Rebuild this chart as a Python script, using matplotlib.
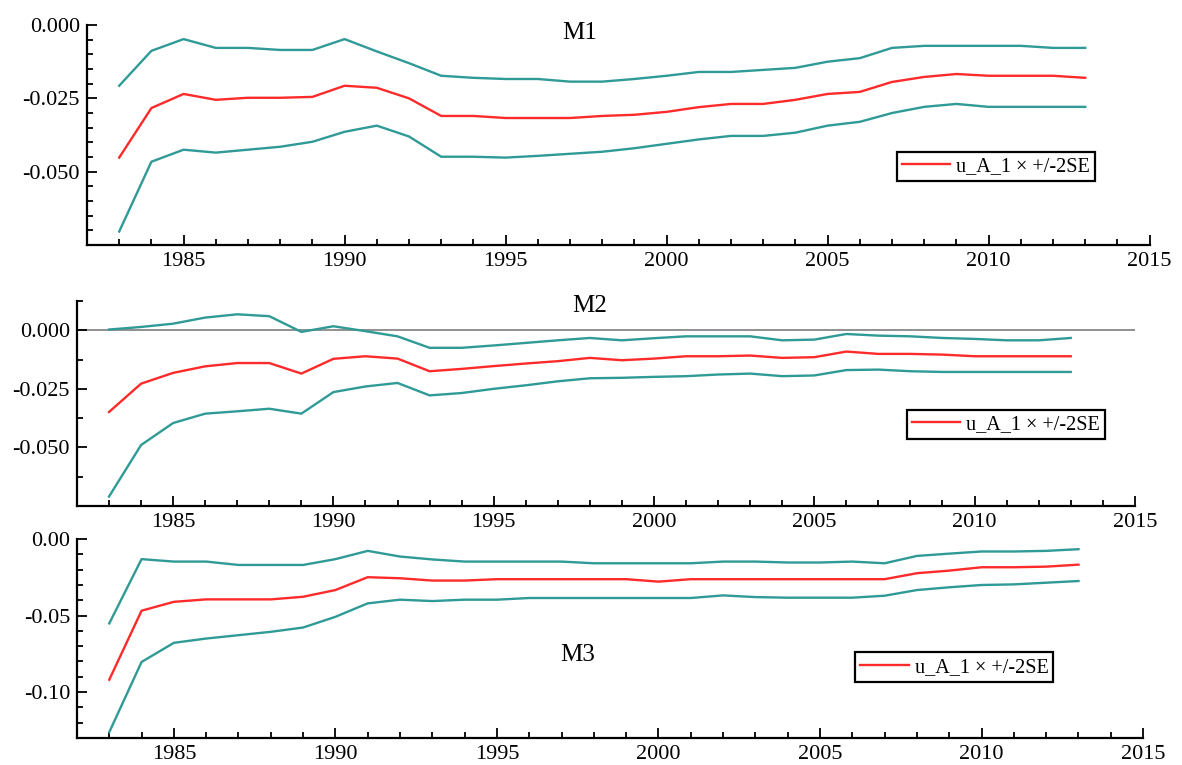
import numpy as np
from matplotlib import pyplot as plt
from matplotlib.ticker import MultipleLocator, FormatStrFormatter

plt.rcParams.update({'font.family': 'Liberation Serif', 'font.size': 15,
                     'axes.unicode_minus': False})

years = np.arange(1983, 2014)

# M1
m1_mid = [-0.0452, -0.0283, -0.0235, -0.0255, -0.0248, -0.0248, -0.0245, -0.0207, -0.0214, -0.0250,
          -0.0310, -0.0310, -0.0317, -0.0317, -0.0317, -0.0310, -0.0306, -0.0296, -0.0280, -0.0269,
          -0.0269, -0.0255, -0.0235, -0.0228, -0.0194, -0.0177, -0.0167, -0.0173, -0.0173, -0.0173, -0.0180]
m1_up = [-0.0207, -0.0088, -0.0048, -0.0078, -0.0078, -0.0085, -0.0085, -0.0048, -0.0090, -0.0130,
         -0.0173, -0.0180, -0.0184, -0.0184, -0.0193, -0.0193, -0.0184, -0.0173, -0.0160, -0.0160,
         -0.0153, -0.0146, -0.0125, -0.0113, -0.0078, -0.0071, -0.0071, -0.0071, -0.0071, -0.0078, -0.0078]
m1_lo = [-0.0704, -0.0466, -0.0425, -0.0435, -0.0425, -0.0415, -0.0398, -0.0364, -0.0343, -0.0380,
         -0.0449, -0.0449, -0.0452, -0.0446, -0.0439, -0.0432, -0.0420, -0.0405, -0.0390, -0.0378,
         -0.0378, -0.0367, -0.0343, -0.0330, -0.0300, -0.0279, -0.0269, -0.0279, -0.0279, -0.0279, -0.0279]

# M2
m2_mid = [-0.0349, -0.0228, -0.0182, -0.0154, -0.0140, -0.0140, -0.0185, -0.0122, -0.0111, -0.0121,
          -0.0175, -0.0165, -0.0153, -0.0142, -0.0132, -0.0118, -0.0128, -0.0121, -0.0111, -0.0111,
          -0.0108, -0.0118, -0.0115, -0.0091, -0.0101, -0.0101, -0.0104, -0.0111, -0.0111, -0.0111, -0.0111]
m2_up = [0.0003, 0.0014, 0.0028, 0.0054, 0.0068, 0.0060, -0.0007, 0.0017, -0.0004, -0.0026,
         -0.0075, -0.0075, -0.0065, -0.0054, -0.0043, -0.0033, -0.0043, -0.0034, -0.0026, -0.0026,
         -0.0026, -0.0043, -0.0040, -0.0016, -0.0023, -0.0026, -0.0033, -0.0037, -0.0043, -0.0043, -0.0033]
m2_lo = [-0.0710, -0.0490, -0.0396, -0.0356, -0.0346, -0.0335, -0.0356, -0.0264, -0.0240, -0.0225,
         -0.0278, -0.0268, -0.0250, -0.0235, -0.0218, -0.0205, -0.0203, -0.0199, -0.0196, -0.0189,
         -0.0185, -0.0196, -0.0193, -0.0170, -0.0168, -0.0175, -0.0178, -0.0178, -0.0178, -0.0178, -0.0178]

# M3
m3_mid = [-0.0919, -0.0468, -0.0410, -0.0394, -0.0394, -0.0394, -0.0377, -0.0333, -0.0249, -0.0256,
          -0.0271, -0.0271, -0.0262, -0.0262, -0.0262, -0.0262, -0.0262, -0.0278, -0.0262, -0.0262,
          -0.0262, -0.0262, -0.0262, -0.0262, -0.0262, -0.0223, -0.0206, -0.0184, -0.0184, -0.0180, -0.0167]
m3_up = [-0.0551, -0.0131, -0.0147, -0.0147, -0.0169, -0.0169, -0.0169, -0.0131, -0.0077, -0.0114,
         -0.0133, -0.0147, -0.0147, -0.0147, -0.0147, -0.0158, -0.0158, -0.0158, -0.0158, -0.0147,
         -0.0147, -0.0153, -0.0153, -0.0147, -0.0158, -0.0110, -0.0095, -0.0081, -0.0081, -0.0077, -0.0066]
m3_lo = [-0.1262, -0.0803, -0.0678, -0.0650, -0.0628, -0.0606, -0.0578, -0.0508, -0.0420, -0.0396,
         -0.0405, -0.0396, -0.0396, -0.0385, -0.0385, -0.0385, -0.0385, -0.0385, -0.0385, -0.0368,
         -0.0379, -0.0383, -0.0383, -0.0383, -0.0370, -0.0333, -0.0315, -0.0300, -0.0296, -0.0285, -0.0274]

m1_yticks = [0.0, -0.025, -0.05]
m2_yticks = [0.0, -0.025, -0.05]
m3_yticks = [0.0, -0.05, -0.10]

teal = '#2f9a96'
red = '#ff2a2a'
label = u'u_A_1 \u00d7 +/-2SE'

fig = plt.figure(figsize=(11.82, 7.65), dpi=100)

panels = [
    # rect, data, ylim, yticks, minor step, fmt, title, title pos, legend pos
    ([0.0736, 0.6797, 0.899, 0.2876], (m1_lo, m1_mid, m1_up), (-0.075, 0.0), m1_yticks, 0.005, '%.3f',
     'M1', (0.464, 0.962), (0.762, 0.425)),
    ([0.0651, 0.3386, 0.895, 0.2680], (m2_lo, m2_mid, m2_up), (-0.075, 0.0125), m2_yticks, 0.0125, '%.3f',
     'M2', (0.485, 0.975), (0.7845, 0.470)),
    ([0.0651, 0.0353, 0.902, 0.2600], (m3_lo, m3_mid, m3_up), (-0.13, 0.0), m3_yticks, 0.01, '%.2f',
     'M3', (0.47, 0.417), (0.730, 0.430)),
]

for i, (rect, (lo, mid, up), ylim, yt, mnr, fmt, title, tpos, lpos) in enumerate(panels):
    ax = fig.add_axes(rect)
    if i == 1:
        ax.axhline(0, color='#888888', lw=1.3, zorder=1)
    ax.plot(years, up, color=teal, lw=1.7)
    ax.plot(years, mid, color=red, lw=1.7, label=label)
    ax.plot(years, lo, color=teal, lw=1.7)
    ax.set_xlim(1982, 2015)
    ax.set_ylim(*ylim)
    ax.xaxis.set_major_locator(MultipleLocator(5))
    ax.xaxis.set_minor_locator(MultipleLocator(1))
    ax.set_yticks(yt)
    ax.yaxis.set_minor_locator(MultipleLocator(mnr))
    ax.yaxis.set_major_formatter(FormatStrFormatter(fmt))
    for s in ['top', 'right']:
        ax.spines[s].set_visible(False)
    for s in ['left', 'bottom']:
        ax.spines[s].set_linewidth(1.6)
    ax.tick_params(which='both', direction='in', width=1.3, labelsize=16)
    ax.tick_params(which='major', length=7, pad=5)
    ax.tick_params(which='minor', length=4.5)
    ax.text(tpos[0], tpos[1], title, transform=ax.transAxes, ha='center', va='center', fontsize=18)
    leg = ax.legend(loc='upper left', bbox_to_anchor=lpos, borderaxespad=0, fontsize=14.5,
                    fancybox=False, framealpha=1, edgecolor='black', handlelength=2.4,
                    handletextpad=0.3, borderpad=0.25)
    leg.get_frame().set_linewidth(1.6)

plt.savefig('out.png', dpi=100)
plt.close()
